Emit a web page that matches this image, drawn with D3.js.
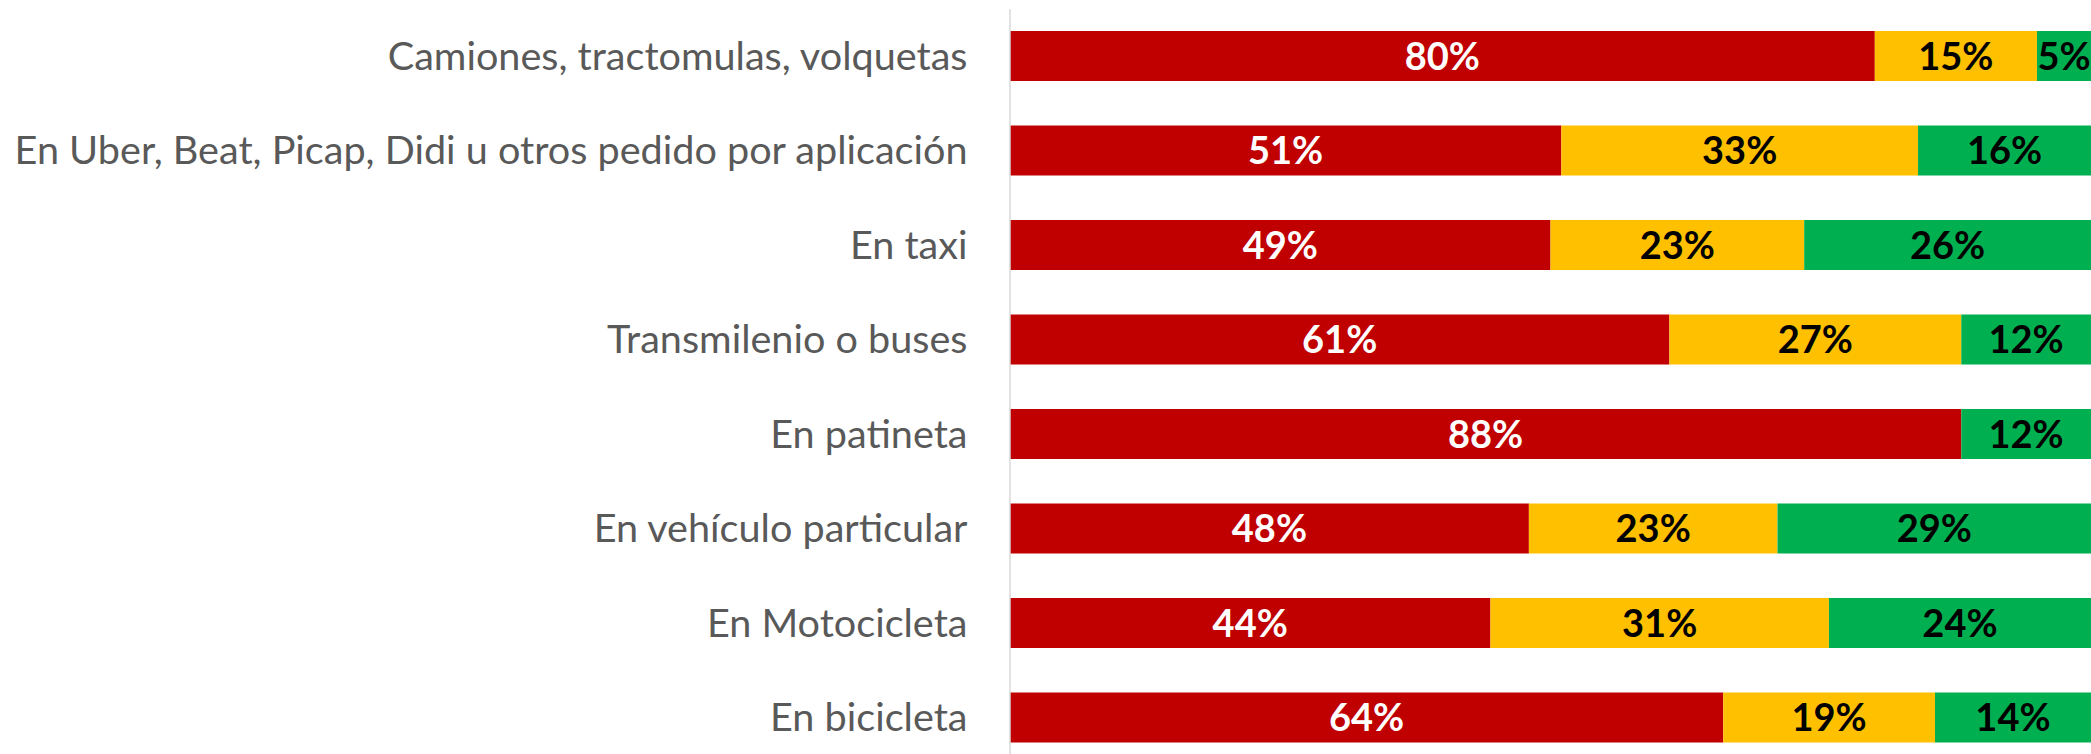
<!DOCTYPE html>
<html>
<head>
<meta charset="utf-8">
<script src="https://cdn.jsdelivr.net/npm/d3@7"></script>
<style>
  html, body { margin: 0; padding: 0; background: #fff; }
  svg { display: block; }
</style>
</head>
<body>
<svg id="chart" width="2091" height="754"></svg>
<script>
// Modes of transport (rows, top to bottom)
const categories = [
  "Camiones, tractomulas, volquetas",
  "En Uber, Beat, Picap, Didi u otros pedido por aplicación",
  "En taxi",
  "Transmilenio o buses",
  "En patineta",
  "En vehículo particular",
  "En Motocicleta",
  "En bicicleta"
];

// Share of answers per row (percent)
const rojo     = [80, 51, 49, 61, 88, 48, 44, 64];
const amarillo = [15, 33, 23, 27,  0, 23, 31, 19];
const verde    = [ 5, 16, 26, 12, 12, 29, 24, 14];

const seriesKeys = ["rojo", "amarillo", "verde"];
const seriesColors = { rojo: "#C00000", amarillo: "#FFC000", verde: "#00B050" };
const labelColors  = { rojo: "#FFFFFF", amarillo: "#000000", verde: "#000000" };

const rows = categories.map((c, i) => ({
  categoria: c, rojo: rojo[i], amarillo: amarillo[i], verde: verde[i]
}));

const svg = d3.select("#chart");
const plotLeft = 1010, plotRight = 2091, plotTop = 8.75, plotBottom = 764.75;

// 100% stacked: each row is normalised to its own total
const stack = d3.stack().keys(seriesKeys).offset(d3.stackOffsetExpand);
const stacked = stack(rows);

const x = d3.scaleLinear().domain([0, 1]).range([plotLeft, plotRight]);
const pad = 0.4709;
const y = d3.scaleBand().domain(categories)
  .range([plotTop, plotBottom])
  .paddingInner(pad).paddingOuter(pad / 2);

const layers = svg.append("g").selectAll("g")
  .data(stacked).join("g")
  .attr("fill", d => seriesColors[d.key]);

layers.selectAll("rect")
  .data(d => d.map(p => ({ p, key: d.key })))
  .join("rect")
  .attr("x", d => x(d.p[0]))
  .attr("y", d => y(d.p.data.categoria))
  .attr("width", d => Math.max(0, x(d.p[1]) - x(d.p[0])))
  .attr("height", y.bandwidth());

// Value labels centred in each segment
const labels = svg.append("g")
  .attr("font-family", "Lato, 'Open Sans', sans-serif")
  .attr("font-weight", "bold")
  .attr("font-size", 38)
  .attr("text-anchor", "middle");

stacked.forEach(layer => {
  labels.selectAll(null)
    .data(layer.filter(p => p.data[layer.key] > 0))
    .join("text")
    .attr("x", p => (x(p[0]) + x(p[1])) / 2)
    .attr("y", p => y(p.data.categoria) + y.bandwidth() / 2)
    .attr("dy", "0.36em")
    .attr("fill", labelColors[layer.key])
    .text(p => p.data[layer.key] + "%");
});

// Category axis
const axis = d3.axisLeft(y).tickSize(0).tickPadding(42);
const gAxis = svg.append("g")
  .attr("transform", `translate(${plotLeft - 0.5},0)`)
  .call(axis);
gAxis.select(".domain")
  .attr("stroke", "#D9D9D9")
  .attr("stroke-width", 1.5);
gAxis.selectAll(".tick text")
  .attr("font-family", "Lato, 'Open Sans', sans-serif")
  .attr("font-size", 39.6)
  .attr("fill", "#595959")
  .attr("dy", "0.35em");
</script>
</body>
</html>
